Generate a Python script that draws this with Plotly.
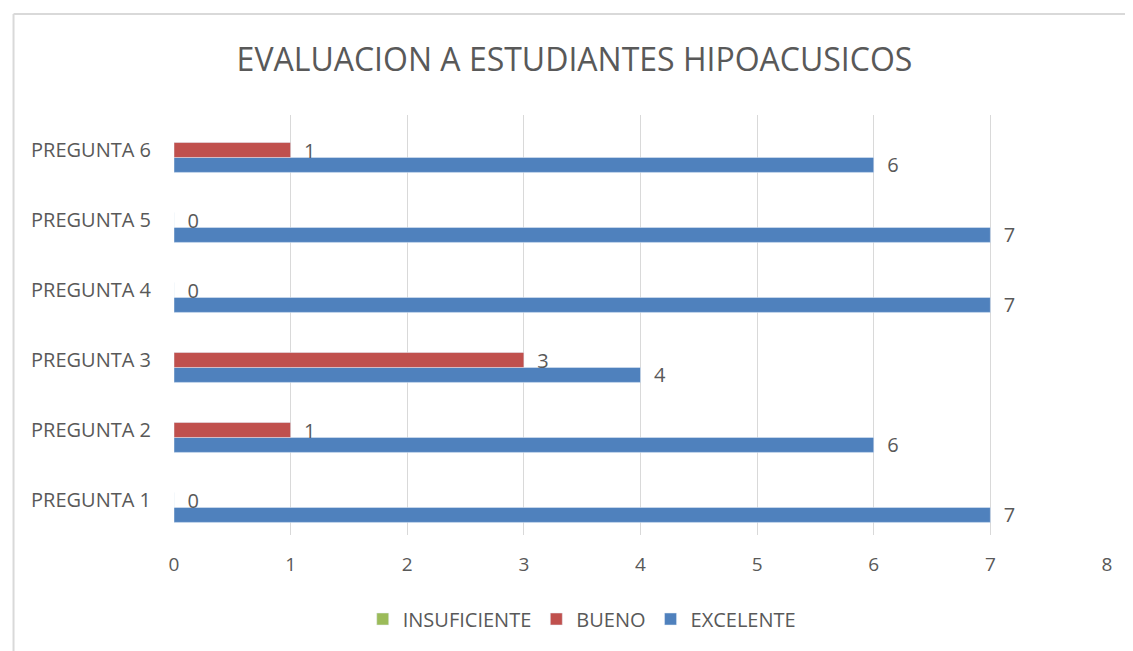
import plotly.graph_objects as go

preguntas = ["PREGUNTA 1", "PREGUNTA 2", "PREGUNTA 3", "PREGUNTA 4", "PREGUNTA 5", "PREGUNTA 6"]
insuficiente = [None, None, None, None, None, None]
bueno = [0, 1, 3, 0, 0, 1]
excelente = [7, 6, 4, 7, 7, 6]

FONT = "Open Sans"
GREY = "#595959"
LABEL = "\u00a0\u00a0%{x}"

fig = go.Figure()

# Excel draws the last series on top, so excelente goes first here (bottom of each group)
fig.add_trace(go.Bar(y=preguntas, x=excelente, name="EXCELENTE", orientation="h",
                     marker_color="#4f81bd", text=excelente, texttemplate=LABEL,
                     textposition="outside", constraintext="none",
                     textfont=dict(color=GREY, size=20), cliponaxis=False))
fig.add_trace(go.Bar(y=preguntas, x=bueno, name="BUENO", orientation="h",
                     marker_color="#c0504d", text=bueno, texttemplate=LABEL,
                     textposition="outside", constraintext="none",
                     textfont=dict(color=GREY, size=20), cliponaxis=False))
fig.add_trace(go.Bar(y=preguntas, x=insuficiente, name="INSUFICIENTE", orientation="h",
                     marker_color="#9bbb59"))

# the page body has an 8px margin, so everything is shifted up/left by 8
fig.update_layout(
    width=1133, height=651,
    margin=dict(l=166, r=34, t=107, b=124),
    paper_bgcolor="white", plot_bgcolor="white",
    barmode="group", bargap=0.36, bargroupgap=0,
    font=dict(family=FONT, color=GREY, size=18),
    title=dict(text="EVALUACION A ESTUDIANTES HIPOACUSICOS", x=0.5, xanchor="center",
               y=0.92, yanchor="middle", yref="container",
               font=dict(family=FONT, size=32, color=GREY)),
    legend=dict(orientation="h", traceorder="reversed", x=0.437, xanchor="center",
                y=-0.2, yanchor="middle", font=dict(size=20, color=GREY),
                itemwidth=30, tracegroupgap=0),
    xaxis=dict(range=[0, 8], dtick=1, showgrid=True, gridcolor="#d9d9d9", gridwidth=1,
               zeroline=False, showline=False, ticks="", ticklabelstandoff=16,
               tickfont=dict(size=19, color=GREY)),
    yaxis=dict(showgrid=False, showline=False, ticks="", ticklabelstandoff=22,
               tickfont=dict(size=20, color=GREY)),
    shapes=[
        dict(type="line", xref="paper", yref="paper", x0=-0.172, x1=1.05, y0=1.2405, y1=1.2405,
             line=dict(color="#d9d9d9", width=2)),
        dict(type="line", xref="paper", yref="paper", x0=-0.172, x1=-0.172, y0=1.2405, y1=-0.35,
             line=dict(color="#d9d9d9", width=2)),
    ],
)

fig.write_html("out.html")
